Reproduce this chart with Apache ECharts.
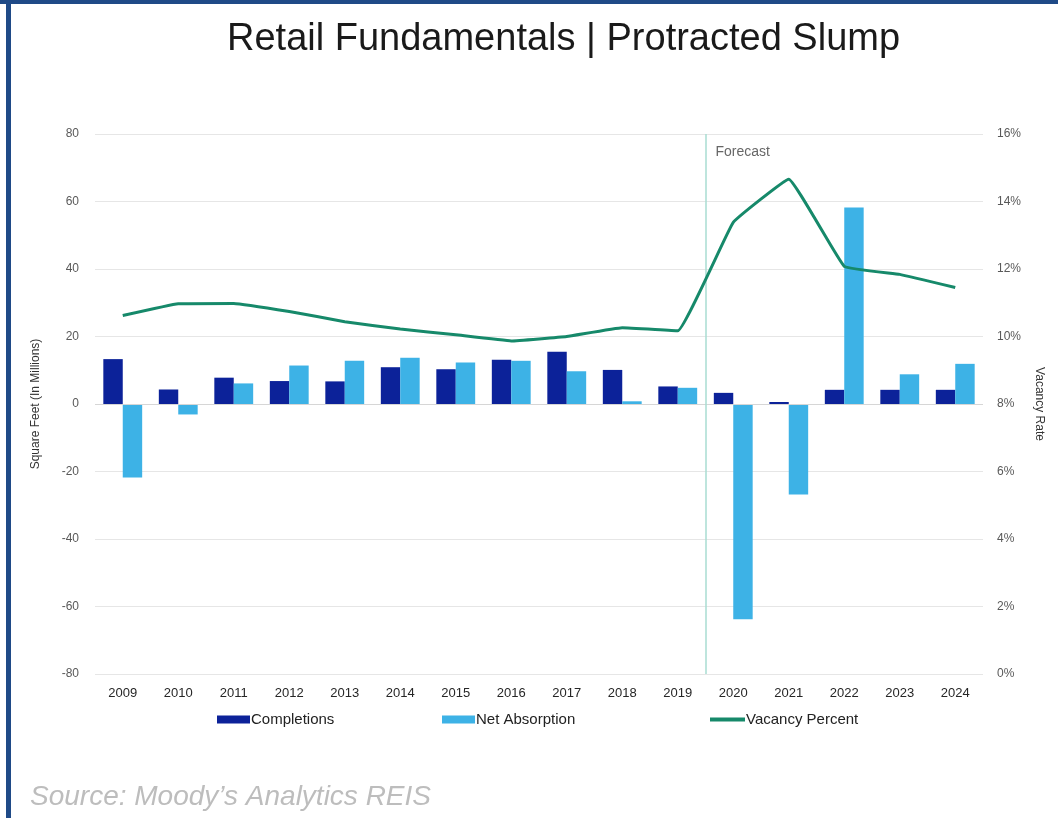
<!DOCTYPE html>
<html>
<head>
<meta charset="utf-8">
<script src="https://cdn.jsdelivr.net/npm/echarts@6/dist/echarts.min.js"></script>
<style>
html,body{margin:0;padding:0;background:#fff;}
#chart{width:1058px;height:824px;}
</style>
</head>
<body>
<div id="chart"></div>
<script>
const categories = ['2009','2010','2011','2012','2013','2014','2015','2016','2017','2018','2019','2020','2021','2022','2023','2024'];
const completions = [13.3, 4.3, 7.8, 6.8, 6.7, 10.9, 10.3, 13.1, 15.5, 10.1, 5.2, 3.3, 0.6, 4.2, 4.2, 4.2];
const netAbsorption = [-21.8, -3.1, 6.1, 11.4, 12.8, 13.7, 12.3, 12.8, 9.7, 0.8, 4.8, -63.8, -26.8, 58.2, 8.8, 11.9];
const vacancyPercent = [10.62, 10.97, 10.98, 10.74, 10.44, 10.22, 10.05, 9.87, 10.0, 10.26, 10.17, 13.38, 14.66, 12.08, 11.84, 11.45];
const forecastStart = '2020';
const forecastLabel = 'Forecast';
const leftTicks = {min: -80, max: 80, interval: 20};
const rightTicks = {min: 0, max: 16, interval: 2};

const FONT = 'Liberation Sans, Arial, sans-serif';
const C_COMP = '#0c2299';
const C_NET = '#3db2e6';
const C_VAC = '#16896a';

const fIdx = categories.indexOf(forecastStart);

const chart = echarts.init(document.getElementById('chart'), null, {renderer: 'canvas'});
chart.setOption({
  backgroundColor: '#ffffff',
  animation: false,
  textStyle: {fontFamily: FONT},
  title: {
    text: 'Retail Fundamentals | Protracted Slump',
    left: 222, top: 16,
    textStyle: {fontFamily: FONT, fontSize: 38, fontWeight: 'normal', color: '#1a1a1a'}
  },
  graphic: [
    {type: 'rect', left: 0, top: 0, shape: {width: 1058, height: 4}, style: {fill: '#1f4a87'}},
    {type: 'rect', left: 6, top: 0, shape: {width: 5, height: 818}, style: {fill: '#1f4a87'}},
    {type: 'text', left: 30, top: 783, style: {text: 'Source: Moody\u2019s Analytics REIS', fill: '#bdbdbd', font: 'italic 28px ' + FONT}}
  ],
  legend: [
    {left: 212, top: 707, itemWidth: 33, itemHeight: 8, itemGap: 0,
     data: [{name: 'Completions', icon: 'rect'}],
     textStyle: {fontSize: 15, color: '#222', padding: [0,0,0,-4]}},
    {left: 437, top: 707, itemWidth: 33, itemHeight: 8, itemGap: 0,
     data: [{name: 'Net Absorption', icon: 'rect'}],
     textStyle: {fontSize: 15, color: '#222', padding: [0,0,0,-4]}},
    {left: 705, top: 707, itemWidth: 35, itemHeight: 8, itemGap: 0,
     data: [{name: 'Vacancy Percent', icon: 'path://M0,2 L35,2 L35,6 L0,6 Z'}],
     textStyle: {fontSize: 15, color: '#222', padding: [0,0,0,-4]}}
  ],
  grid: {left: 95, right: 75, top: 134, bottom: 150},
  xAxis: [
    {type: 'category', data: categories,
     axisLine: {show: false, onZero: false},
     axisTick: {show: false},
     axisLabel: {color: '#262626', fontSize: 13, margin: 13},
     splitLine: {show: false}},
    {type: 'value', min: 0, max: categories.length, show: false}
  ],
  yAxis: [
    {type: 'value', min: leftTicks.min, max: leftTicks.max, interval: leftTicks.interval,
     name: 'Square Feet (In Millions)', nameLocation: 'middle', nameGap: 53, nameRotate: 90,
     nameTextStyle: {color: '#333', fontSize: 12},
     axisLine: {show: false}, axisTick: {show: false},
     axisLabel: {color: '#595959', fontSize: 12, margin: 16},
     splitLine: {lineStyle: {color: '#e6e6e6', width: 1}}},
    {type: 'value', min: rightTicks.min, max: rightTicks.max, interval: rightTicks.interval, position: 'right',
     name: 'Vacancy Rate', nameLocation: 'middle', nameGap: 50, nameRotate: -90,
     nameTextStyle: {color: '#333', fontSize: 12},
     axisLine: {show: false}, axisTick: {show: false},
     axisLabel: {color: '#595959', fontSize: 12, margin: 14, formatter: '{value}%'},
     splitLine: {show: false}}
  ],
  series: [
    {name: 'Completions', type: 'bar', data: completions, barGap: '0%', barCategoryGap: '30%',
     itemStyle: {color: C_COMP},
     markLine: {silent: true, symbol: 'none', label: {show: false},
       lineStyle: {color: '#d6d6d6', width: 1, type: 'solid'},
       data: [{yAxis: 0}]}},
    {name: 'Net Absorption', type: 'bar', data: netAbsorption, itemStyle: {color: C_NET}},
    {name: 'Vacancy Percent', type: 'line', yAxisIndex: 1, data: vacancyPercent,
     smooth: 0.08, symbol: 'none', lineStyle: {color: C_VAC, width: 3}, itemStyle: {color: C_VAC}, z: 5},
    {name: 'forecast', type: 'scatter', xAxisIndex: 1, yAxisIndex: 0,
     data: [[fIdx, 74.5]], symbolSize: 0, silent: true,
     label: {show: true, position: 'right', distance: 10, formatter: forecastLabel, color: '#404040', fontSize: 14},
     markLine: {silent: true, symbol: 'none', label: {show: false},
       lineStyle: {color: '#a9ddd2', width: 1.5, type: 'solid'},
       data: [{xAxis: fIdx}]}}
  ]
});
</script>
</body>
</html>
